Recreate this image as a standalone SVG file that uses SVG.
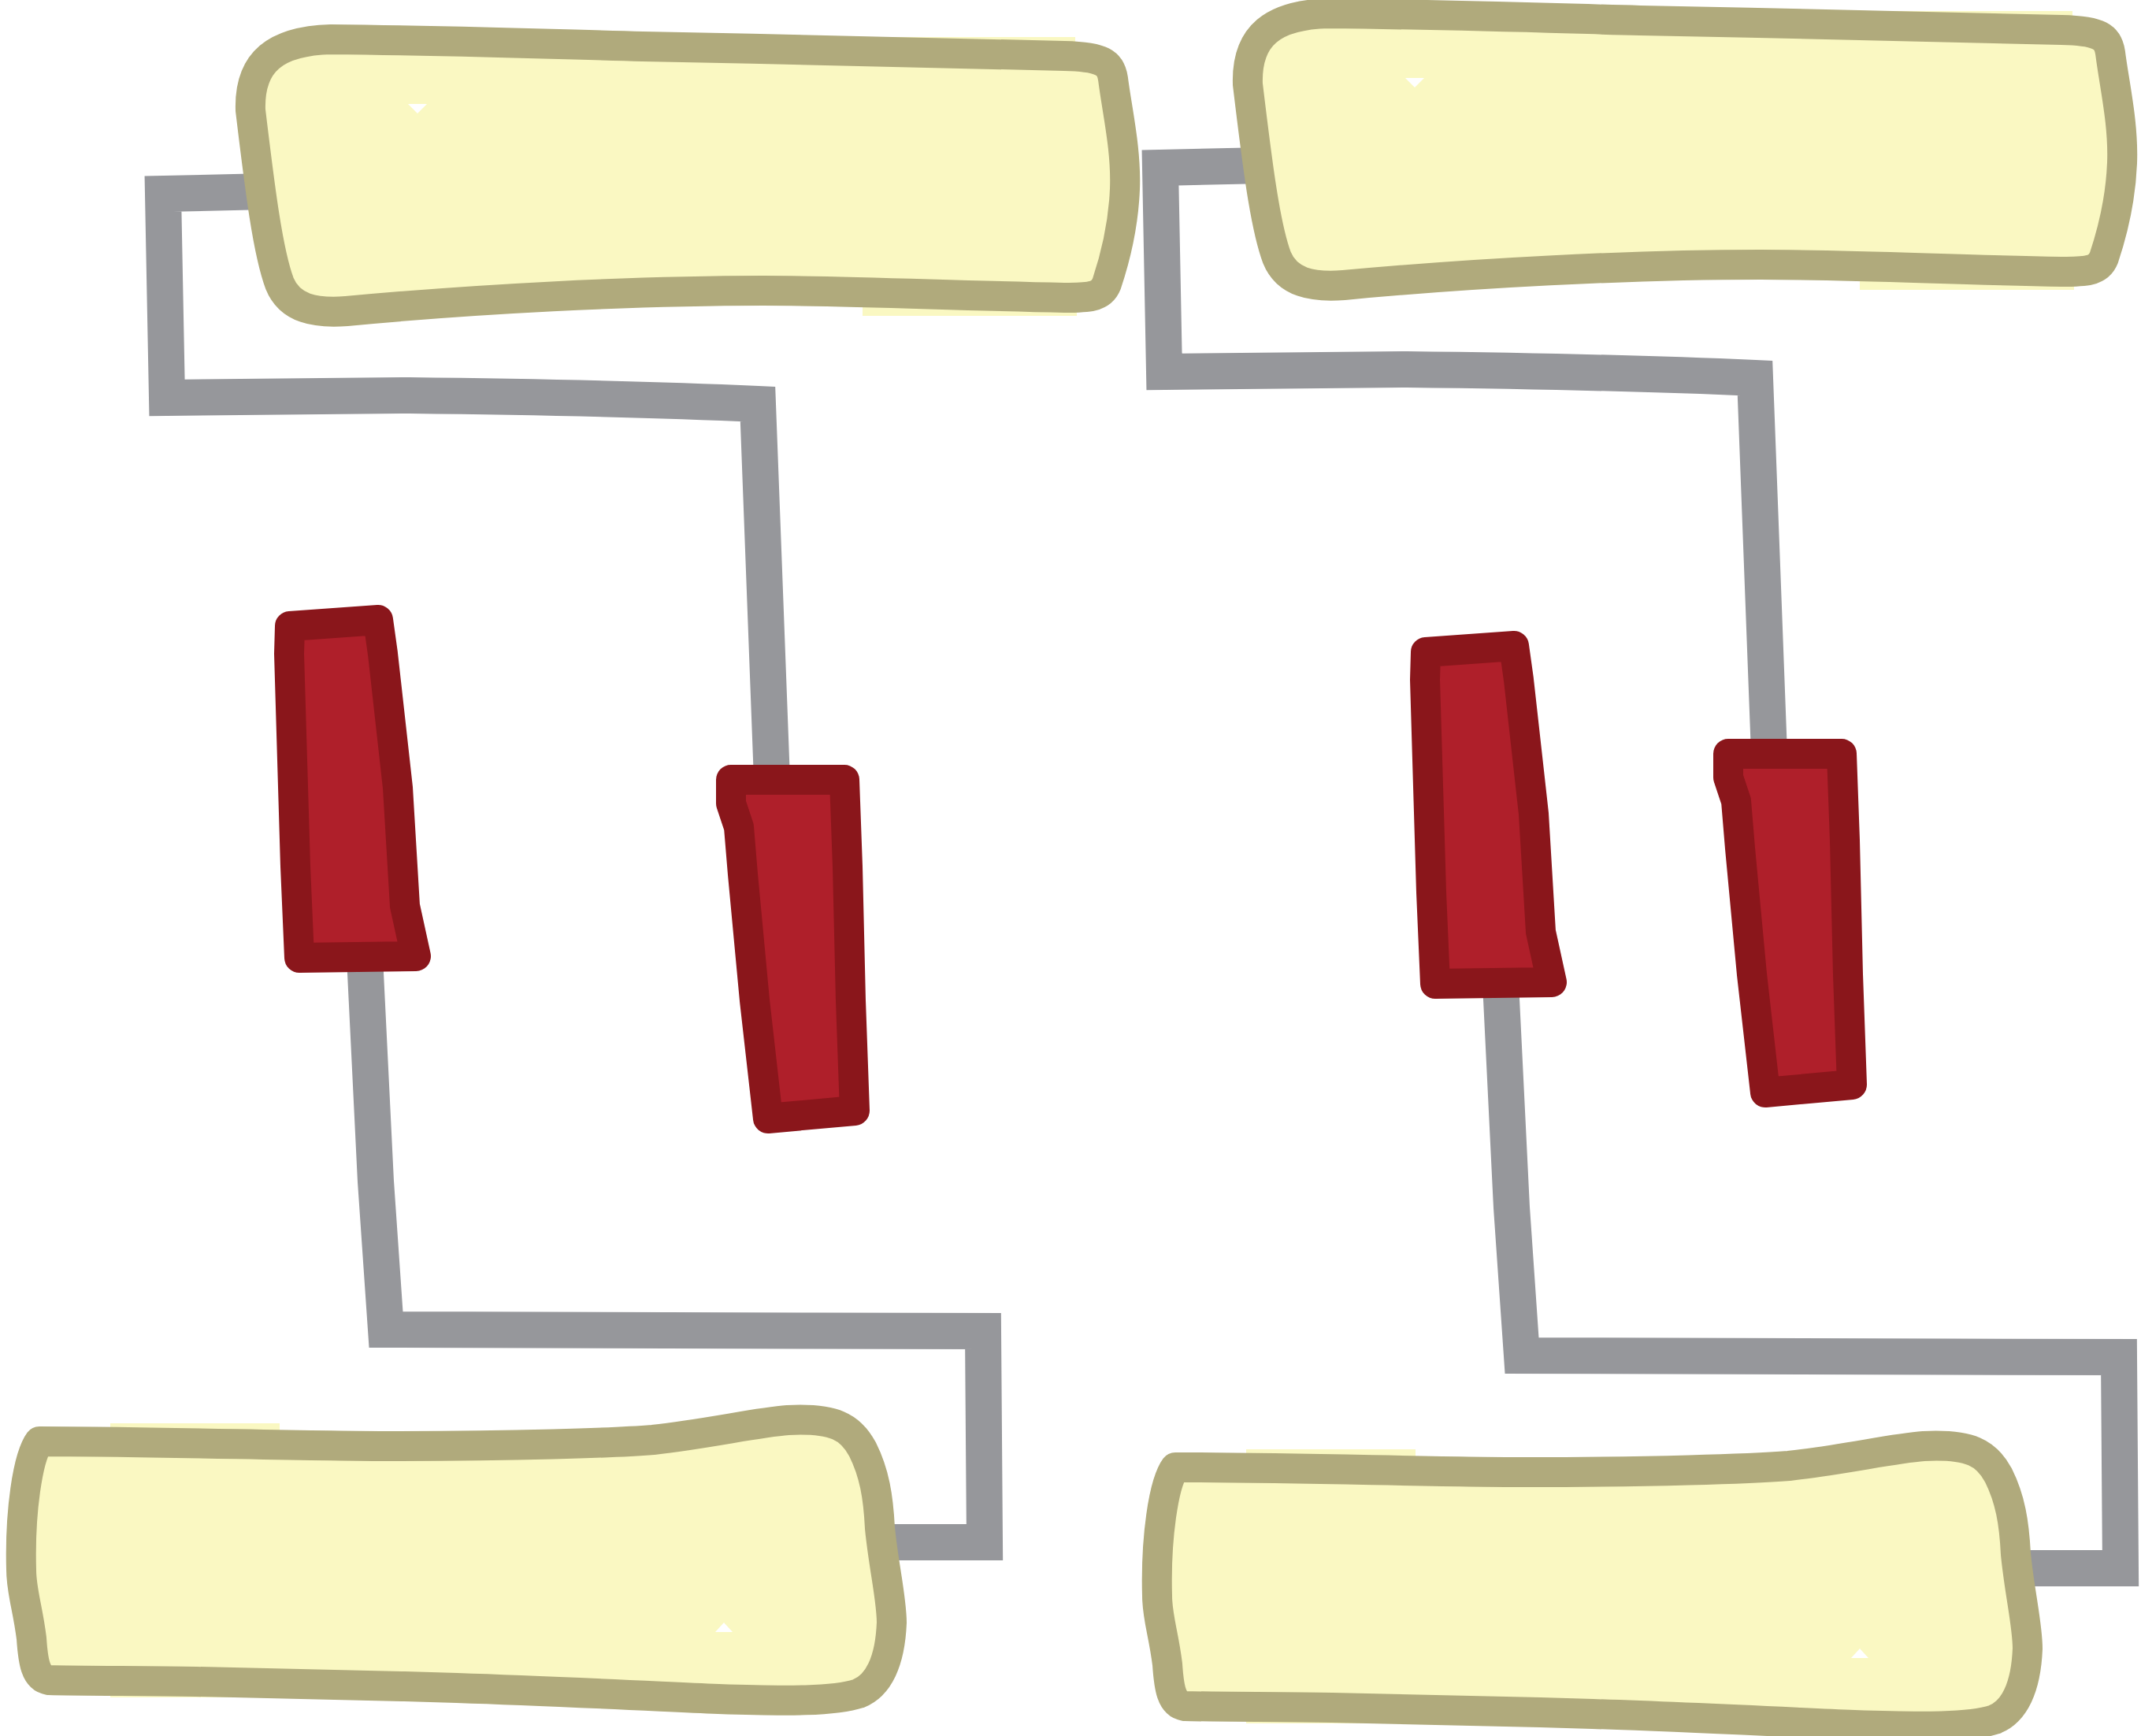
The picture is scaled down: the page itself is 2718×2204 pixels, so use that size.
<svg xmlns="http://www.w3.org/2000/svg" width="2718" height="2204" viewBox="0 0 2718 2204">
<style>
.bleed{fill:#FAF8C2}
.roller{fill:#FAF8C2;stroke:#B0AA7C;stroke-width:38px;stroke-linejoin:round}
.handle{fill:#AF1F2A;stroke:#8A161B;stroke-width:38px;stroke-linejoin:round}
.frame{fill:none;stroke:#96979B;stroke-width:46px;stroke-linejoin:miter}
.glint{fill:#FFFFFF}
</style>
<g id="connectors">
<path class="frame" d="M 340,243 L 207,246 L 212,505 L 520,502 C 700,504 850,508 962,513 L 980,990"/>
<path class="frame" d="M 463,1215 L 477,1500 L 490,1688 C 800,1690 1000,1689 1248,1690 L 1250,1958 L 1120,1958"/>
<path class="frame" transform="translate(1266,-33)" d="M 340,243 L 207,246 L 212,505 L 520,502 C 700,504 850,508 962,513 L 980,990"/>
<path class="frame" transform="translate(1442,33)" d="M 463,1215 L 477,1500 L 490,1688 C 800,1690 1000,1689 1248,1690 L 1250,1958 L 1120,1958"/>
</g>
<g id="roller-1">
<path class="bleed" d="M 1095,47 L 1365,47 L 1367,401 L 1095,401 Z"/>
<path class="roller" d="M 318,140 C 316,78 350,52 420,50 C 600,52 700,56 816,59 C 1000,62 1200,68 1351,71 C 1400,72 1410,80 1413,100 C 1418,140 1430,190 1428,240 C 1426,290 1415,330 1405,360 C 1398,378 1380,378 1351,378 C 1200,375 1080,369 969,369 C 800,369 600,380 440,395 C 400,398 368,392 355,360 C 340,320 330,240 318,140 Z"/>
<polygon class="glint" points="518,132 542,132 530,144"/>
</g>
<g id="roller-2" transform="translate(1266,-33)">
<path class="bleed" d="M 1095,47 L 1365,47 L 1367,401 L 1095,401 Z"/>
<path class="roller" d="M 318,140 C 316,78 350,52 420,50 C 600,52 700,56 816,59 C 1000,62 1200,68 1351,71 C 1400,72 1410,80 1413,100 C 1418,140 1430,190 1428,240 C 1426,290 1415,330 1405,360 C 1398,378 1380,378 1351,378 C 1200,375 1080,369 969,369 C 800,369 600,380 440,395 C 400,398 368,392 355,360 C 340,320 330,240 318,140 Z"/>
<polygon class="glint" points="518,132 542,132 530,144"/>
</g>
<g id="roller-3">
<path class="bleed" d="M 140,1807 L 355,1807 L 355,2155 L 140,2155 Z"/>
<path class="roller" d="M 50,1830 C 200,1830 380,1836 497,1836 C 650,1836 780,1832 829,1828 C 900,1820 960,1806 1000,1803 C 1060,1800 1080,1812 1095,1840 C 1110,1870 1115,1900 1117,1940 C 1122,1990 1132,2030 1132,2060 C 1130,2110 1115,2140 1090,2150 C 1060,2160 1000,2160 912,2157 C 800,2152 700,2147 580,2143 C 450,2139 300,2136 249,2135 C 180,2134 100,2134 62,2133 C 45,2130 42,2110 40,2080 C 35,2040 27,2020 27,1993 C 25,1920 35,1850 50,1830 Z"/>
<polygon class="glint" points="908,2072 930,2072 919,2060"/>
</g>
<g id="roller-4" transform="translate(1442,33)">
<path class="bleed" d="M 140,1807 L 355,1807 L 355,2155 L 140,2155 Z"/>
<path class="roller" d="M 50,1830 C 200,1830 380,1836 497,1836 C 650,1836 780,1832 829,1828 C 900,1820 960,1806 1000,1803 C 1060,1800 1080,1812 1095,1840 C 1110,1870 1115,1900 1117,1940 C 1122,1990 1132,2030 1132,2060 C 1130,2110 1115,2140 1090,2150 C 1060,2160 1000,2160 912,2157 C 800,2152 700,2147 580,2143 C 450,2139 300,2136 249,2135 C 180,2134 100,2134 62,2133 C 45,2130 42,2110 40,2080 C 35,2040 27,2020 27,1993 C 25,1920 35,1850 50,1830 Z"/>
<polygon class="glint" points="908,2072 930,2072 919,2060"/>
</g>
<g id="handle-1"><path class="handle" d="M 368,795 L 480,787 L 486,830 L 505,1000 L 514,1150 L 528,1214 L 380,1216 L 375,1100 L 367,830 Z"/></g>
<g id="handle-2"><path class="handle" d="M 928,990 L 1072,990 L 1076,1100 L 1080,1270 L 1085,1410 L 975,1420 L 958,1270 L 943,1110 L 938,1050 L 928,1020 Z"/></g>
<g id="handle-3" transform="translate(1442,33)"><path class="handle" d="M 368,795 L 480,787 L 486,830 L 505,1000 L 514,1150 L 528,1214 L 380,1216 L 375,1100 L 367,830 Z"/></g>
<g id="handle-4" transform="translate(1266,-33)"><path class="handle" d="M 928,990 L 1072,990 L 1076,1100 L 1080,1270 L 1085,1410 L 975,1420 L 958,1270 L 943,1110 L 938,1050 L 928,1020 Z"/></g>
</svg>
